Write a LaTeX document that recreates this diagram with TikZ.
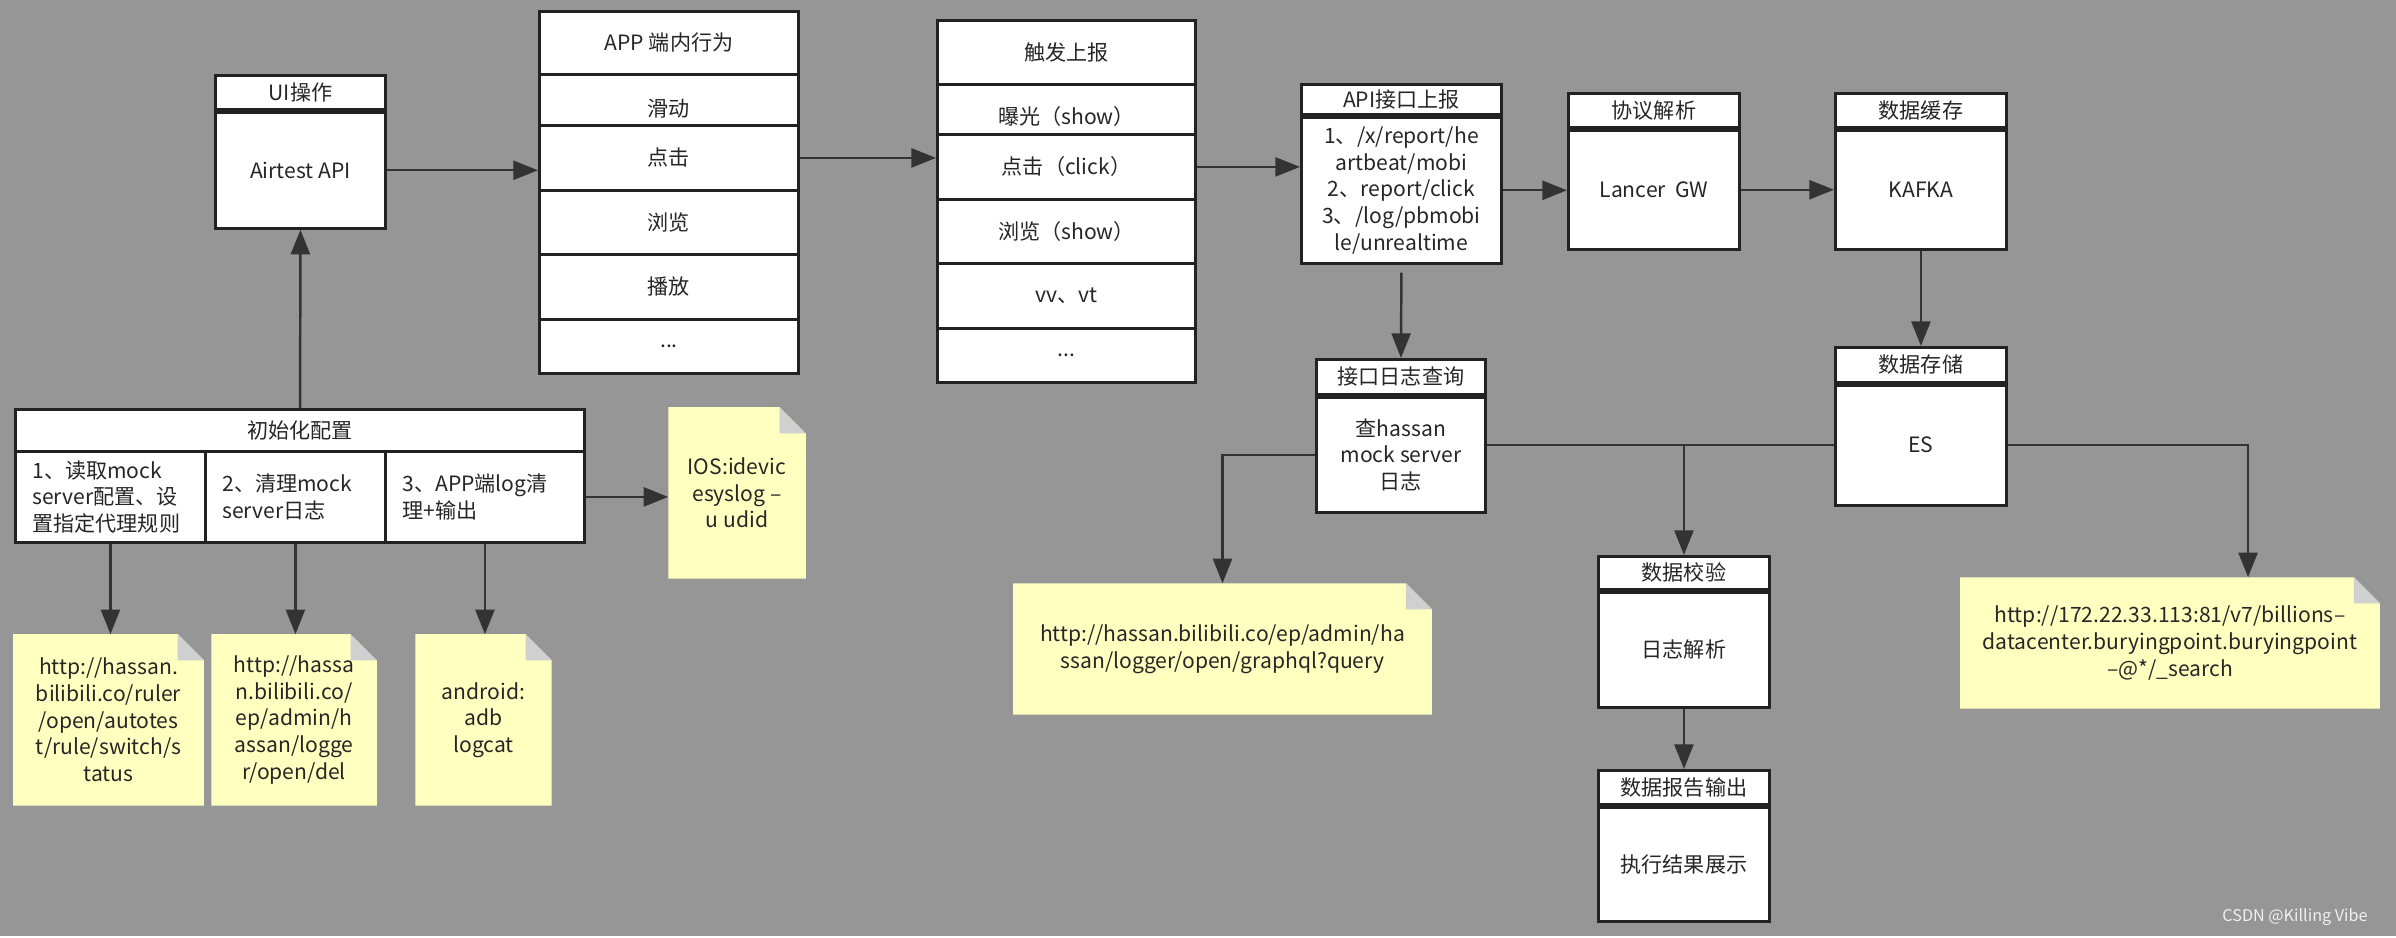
\documentclass[tikz,border=0pt]{standalone}
\usepackage{fontspec}
\setmainfont{Noto Sans CJK SC}
\usetikzlibrary{arrows.meta,positioning}
\definecolor{canvas}{HTML}{969696}
\definecolor{wirec}{HTML}{333333}
\definecolor{boxline}{HTML}{222222}
\definecolor{notefill}{HTML}{FFFFC0}
\definecolor{foldc}{HTML}{D0D0D0}
\pgfdeclarelayer{bg}
\pgfdeclarelayer{notes}
\pgfsetlayers{bg,notes,main}
\tikzset{>={Triangle[length=7pt,width=5.4pt]},
  every node/.style={font=\fontsize{6pt}{7.6pt}\selectfont,text=black!85},
  box/.style={draw=boxline,fill=white,line width=0.8pt,inner sep=0pt,align=center,anchor=north west},
  col/.style={box,align=left,inner xsep=0.17cm},
  note/.style={inner sep=0pt,align=center},
  wire/.style={draw=wirec,line width=0.7pt}}
% yellow sheet with a folded corner behind a note node
\newcommand\notepaper[1]{%
  \fill[notefill] (#1.north west) -- ([xshift=-0.26cm]#1.north east) -- ([yshift=-0.26cm]#1.north east)
    -- (#1.south east) -- (#1.south west) -- cycle;
  \fill[foldc] ([xshift=-0.26cm]#1.north east) -- ([xshift=-0.26cm,yshift=-0.26cm]#1.north east)
    -- ([yshift=-0.26cm]#1.north east) -- cycle;}

\begin{document}
\begin{tikzpicture}[x=0.01cm,y=-0.01cm]
    \begin{pgfonlayer}{bg}
        \fill[canvas] (0,0) rectangle (2396,936);
    \end{pgfonlayer}

    % UI
    \node[box,minimum width=1.70cm,minimum height=0.34cm] (uihead) at (214,74) {UI操作};
    \node[box,minimum width=1.70cm,minimum height=1.16cm,below=0pt of uihead] (uibody) {Airtest API};

    % app behaviour list
    \node[box,minimum width=2.59cm,minimum height=0.63cm] (apphead)   at (538,10)  {APP 端内行为};
    \node[box,minimum width=2.59cm,minimum height=0.68cm] (appslide)  at (538,73)  {滑动};
    \node[box,minimum width=2.59cm,minimum height=0.65cm] (appclick)  at (538,124) {点击};
    \node[box,minimum width=2.59cm,minimum height=0.64cm] (appbrowse) at (538,189) {浏览};
    \node[box,minimum width=2.59cm,minimum height=0.65cm] (appplay)   at (538,253) {播放};
    \node[box,minimum width=2.59cm,minimum height=0.54cm] (appmore)   at (538,318) {...};

    % report trigger list
    \node[box,minimum width=2.58cm,minimum height=0.64cm] (trighead)   at (936,19)  {触发上报};
    \node[box,minimum width=2.58cm,minimum height=0.64cm] (trigshow)   at (936,83)  {曝光（show）};
    \node[box,minimum width=2.58cm,minimum height=0.65cm] (trigclick)  at (936,133) {点击（click）};
    \node[box,minimum width=2.58cm,minimum height=0.64cm] (trigbrowse) at (936,198) {浏览（show）};
    \node[box,minimum width=2.58cm,minimum height=0.65cm] (trigvv)     at (936,262) {vv、vt};
    \node[box,minimum width=2.58cm,minimum height=0.54cm] (trigmore)   at (936,327) {...};

    \node[box,minimum width=2.00cm,minimum height=0.30cm] (apihead) at (1300,83) {API接口上报};
    \node[box,minimum width=2.00cm,minimum height=1.46cm,below=0pt of apihead] (apibody)
        {1、/x/report/he\\artbeat/mobi\\2、report/click\\3、/log/pbmobi\\le/unrealtime};

    \node[box,minimum width=1.71cm,minimum height=0.34cm] (protohead) at (1567,92) {协议解析};
    \node[box,minimum width=1.71cm,minimum height=1.19cm,below=0pt of protohead] (protobody) {Lancer\ \ GW};

    \node[box,minimum width=1.71cm,minimum height=0.34cm] (cachehead) at (1834,92) {数据缓存};
    \node[box,minimum width=1.71cm,minimum height=1.19cm,below=0pt of cachehead] (cachebody) {KAFKA};

    \node[box,minimum width=1.71cm,minimum height=0.35cm] (storehead) at (1834,346) {数据存储};
    \node[box,minimum width=1.71cm,minimum height=1.20cm,below=0pt of storehead] (esbody) {ES};

    \node[box,minimum width=1.69cm,minimum height=0.35cm] (queryhead) at (1315,358) {接口日志查询};
    \node[box,minimum width=1.69cm,minimum height=1.15cm,below=0pt of queryhead] (querybody)
        {查hassan\\mock server\\日志};

    \node[box,minimum width=1.71cm,minimum height=0.33cm] (checkhead) at (1597,555) {数据校验};
    \node[box,minimum width=1.71cm,minimum height=1.15cm,below=0pt of checkhead] (checkbody) {日志解析};

    \node[box,minimum width=1.71cm,minimum height=0.34cm] (reporthead) at (1597,769) {数据报告输出};
    \node[box,minimum width=1.71cm,minimum height=1.14cm,below=0pt of reporthead] (reportbody) {执行结果展示};

    % init config
    \node[box,minimum width=5.69cm,minimum height=0.42cm] (inithead) at (14,408) {初始化配置};
    \node[col,minimum width=1.90cm,text width=1.56cm,minimum height=0.91cm] (initmock) at (14,450)
        {1、读取mock\\server配置、设\\置指定代理规则};
    \node[col,minimum width=1.80cm,text width=1.46cm,minimum height=0.91cm] (initclean) at (204,450)
        {2、清理mock\\server日志};
    \node[col,minimum width=1.99cm,text width=1.65cm,minimum height=0.91cm] (initlog) at (384,450)
        {3、APP端log清\\理+输出};

    % notes
    \node[note,minimum width=1.89cm,minimum height=1.70cm] (urlrule) at (108.5,720)
        {http://hassan.\\bilibili.co/ruler\\/open/autotes\\t/rule/switch/s\\tatus};
    \node[note,minimum width=1.64cm,minimum height=1.70cm] (urldel) at (294,720)
        {http://hassa\\n.bilibili.co/\\ep/admin/h\\assan/logge\\r/open/del};
    \node[note,minimum width=1.35cm,minimum height=1.70cm] (adbnote) at (483.5,720) {android:\\adb\\logcat};
    \node[note,minimum width=1.36cm,minimum height=1.70cm] (iosnote) at (737,493) {IOS:idevic\\esyslog –\\u udid};
    \node[note,minimum width=4.17cm,minimum height=1.30cm] (graphnote) at (1222.5,649)
        {http://hassan.bilibili.co/ep/admin/ha\\ssan/logger/open/graphql?query};
    \node[note,minimum width=4.18cm,minimum height=1.30cm] (esnote) at (2170,643)
        {http://172.22.33.113:81/v7/billions–\\datacenter.buryingpoint.buryingpoint\\–@*/\_search};

    \begin{pgfonlayer}{notes}
        \notepaper{urlrule}
        \notepaper{urldel}
        \notepaper{adbnote}
        \notepaper{iosnote}
        \notepaper{graphnote}
        \notepaper{esnote}
    \end{pgfonlayer}

    \draw[wire,->] (inithead.north) -- (uibody.south);
    \draw[wire,->] (uibody.east) -- (uibody.east -| appclick.west);
    \draw[wire,->] (appclick.east) -- (appclick.east -| trigclick.west);
    \draw[wire,->] (trigclick.east) -- (trigclick.east -| apibody.west);
    \draw[wire,->] (apibody.east) -- (apibody.east -| protobody.west);
    \draw[wire,->] (protobody.east) -- (protobody.east -| cachebody.west);
    \draw[wire,->] (cachebody.south) -- (storehead.north);
    \draw[wire,->,shorten <=0.08cm] (apibody.south) -- (queryhead.north);
    \draw[wire] (esbody.west) -- (esbody.west -| querybody.east);
    \draw[wire,->] (esbody.west -| checkhead.north) -- (checkhead.north);
    \draw[wire,->] (esbody.east) -| ([xshift=0.78cm]esnote.north);
    \draw[wire,->] (querybody.west) -| (graphnote.north);
    \draw[wire,->] (checkbody.south) -- (reporthead.north);
    \draw[wire,->] (initlog.east) -- (initlog.east -| iosnote.west);
    \draw[wire,->] (initmock.south) -- (initmock.south |- urlrule.north);
    \draw[wire,->] (initclean.south) -- (initclean.south |- urldel.north);
    \draw[wire,->] (initlog.south) -- (initlog.south |- adbnote.north);

    \node[text=white!88!gray,font=\fontsize{4.6pt}{5pt}\selectfont,anchor=east] (mark) at (2380,917)
        {CSDN @Killing Vibe};
\end{tikzpicture}
\end{document}
